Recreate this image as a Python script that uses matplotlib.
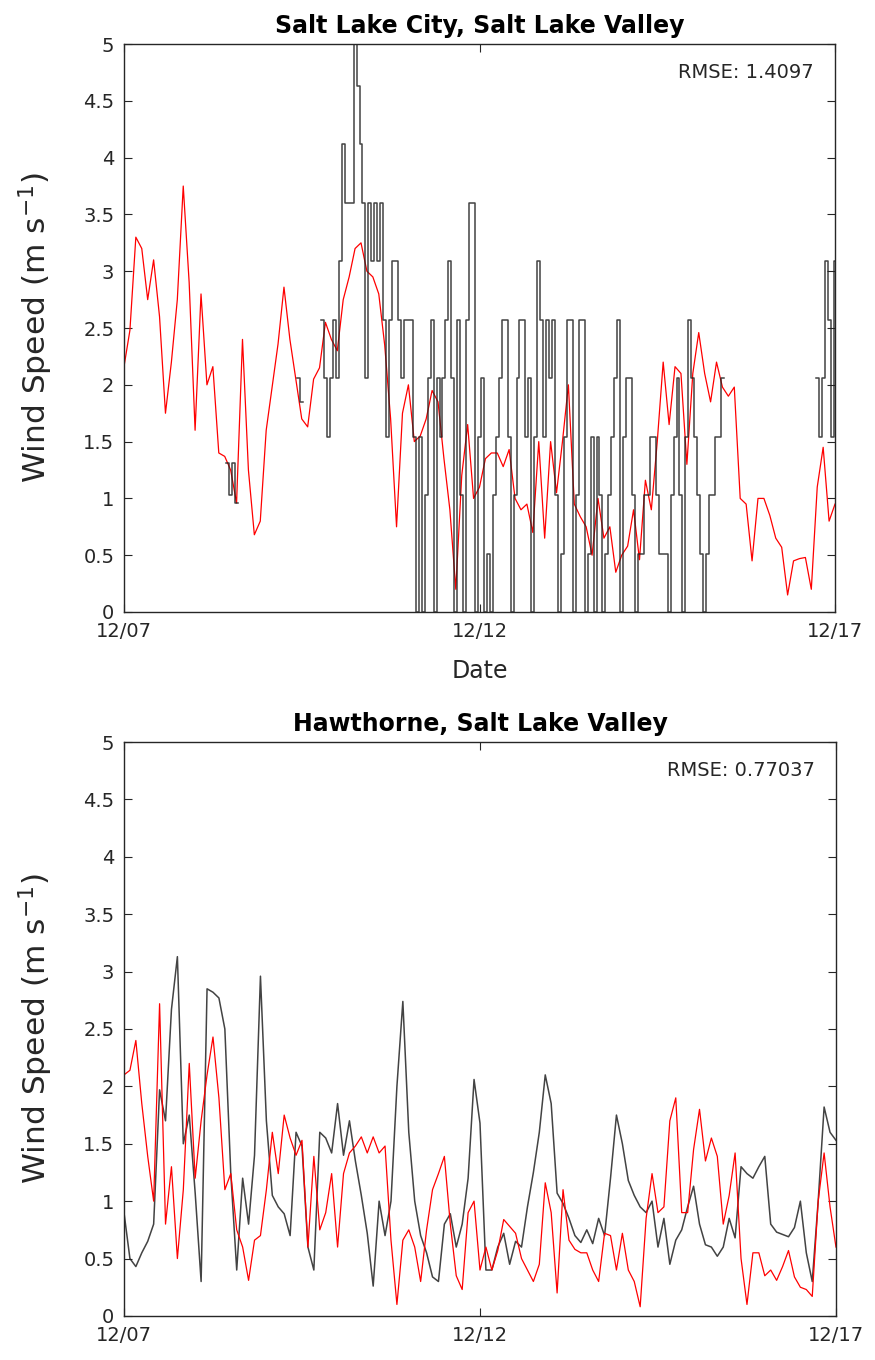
import matplotlib
matplotlib.use("Agg")
import matplotlib.pyplot as plt
import numpy as np

nan = np.nan

# time base in hours after 12/07 00:00
hours_2h = np.arange(0, 241, 2)
hours_1h = np.arange(0, 241, 1)

day_ticks = [0, 5, 10]
day_labels = ["12/07", "12/12", "12/17"]

# Salt Lake City, model (red), every 2 h
slc_model = [2.16, 2.48, 3.3, 3.2, 2.75, 3.1, 2.6, 1.75, 2.2, 2.75,
             3.75, 2.9, 1.6, 2.8, 2.0, 2.16, 1.4, 1.37, 1.25, 0.96,
             2.4, 1.25, 0.68, 0.8, 1.6, 1.98, 2.36, 2.86, 2.4, 2.05,
             1.7, 1.63, 2.05, 2.15, 2.55, 2.4, 2.3, 2.75, 2.95, 3.2,
             3.25, 3.0, 2.95, 2.8, 2.35, 1.7, 0.75, 1.75, 2.0, 1.5,
             1.55, 1.7, 1.95, 1.85, 1.35, 0.9, 0.2, 1.2, 1.65, 1.0,
             1.1, 1.35, 1.4, 1.4, 1.28, 1.43, 1.0, 0.9, 0.95, 0.7,
             1.5, 0.65, 1.5, 1.05, 1.5, 2.0, 0.95, 0.84, 0.75, 0.5,
             1.0, 0.65, 0.75, 0.35, 0.5, 0.58, 0.9, 0.46, 1.16, 0.9,
             1.5, 2.2, 1.65, 2.16, 2.1, 1.3, 2.1, 2.46, 2.1, 1.85,
             2.2, 1.98, 1.9, 1.98, 1.0, 0.95, 0.45, 1.0, 1.0, 0.85,
             0.65, 0.57, 0.15, 0.45, 0.47, 0.48, 0.2, 1.1, 1.45, 0.8,
             0.95]

# Salt Lake City, observed (black), hourly, gaps as nan
slc_obs = ([nan] * 35 + [1.31, 1.03, 1.31, 0.96] + [nan] * 20 + [2.06, 1.85] + [nan] * 6 +
           [2.57, 2.06, 1.54, 2.06, 2.57, 2.06, 3.09, 4.12, 3.6, 3.6,
            3.6, 5.14, 4.63, 4.12, 3.6, 2.06, 3.6, 3.09, 3.6, 3.09,
            3.6, 2.57, 1.54, 2.57, 3.09, 3.09, 2.57, 2.06, 2.57, 2.57,
            2.57, 1.54, 0, 1.54, 0, 1.03, 2.06, 2.57, 0, 2.06,
            1.54, 2.06, 2.57, 3.09, 2.06, 0, 2.57, 1.03, 0, 2.57,
            3.6, 3.6, 0, 1.54, 2.06, 0, 0.51, 0, 1.03, 1.54,
            2.06, 2.57, 2.57, 1.54, 0, 1.03, 2.06, 2.57, 2.57, 1.54,
            2.06, 0, 1.54, 3.09, 2.57, 1.54, 2.57, 2.06, 2.57, 1.03,
            0, 0.51, 1.54, 2.57, 2.57, 0, 1.03, 2.57, 2.57, 0,
            0.51, 1.54, 0, 1.54, 1.03, 0, 0.51, 1.03, 1.54, 2.06,
            2.57, 0, 1.54, 2.06, 2.06, 1.03, 0, 0.51, 0.51, 1.03,
            1.03, 1.54, 1.54, 1.03, 0.51, 0.51, 0.51, 0, 1.03, 1.54,
            2.06, 1.03, 0, 1.54, 2.57, 2.06, 1.54, 1.03, 0.51, 0,
            0.51, 1.03, 1.03, 1.54, 1.54, 2.06] + [nan] * 31 +
           [2.06, 1.54, 2.06, 3.09, 2.57, 1.54, 3.09])

# Hawthorne, model (red), every 2 h
haw_model = [2.1, 2.14, 2.4, 1.85, 1.39, 1.0, 2.72, 0.8, 1.3, 0.5,
             1.1, 2.2, 1.2, 1.7, 2.1, 2.43, 1.9, 1.1, 1.24, 0.75,
             0.6, 0.31, 0.66, 0.7, 1.1, 1.6, 1.24, 1.75, 1.55, 1.4,
             1.53, 0.6, 1.39, 0.75, 0.9, 1.24, 0.6, 1.24, 1.42, 1.48,
             1.56, 1.42, 1.56, 1.42, 1.48, 0.66, 0.1, 0.66, 0.75, 0.6,
             0.3, 0.75, 1.1, 1.24, 1.39, 0.8, 0.35, 0.23, 0.9, 1.0,
             0.4, 0.6, 0.4, 0.57, 0.84, 0.78, 0.72, 0.5, 0.4, 0.3,
             0.45, 1.16, 0.9, 0.2, 1.1, 0.66, 0.58, 0.55, 0.55, 0.4,
             0.3, 0.72, 0.7, 0.4, 0.72, 0.4, 0.3, 0.08, 0.85, 1.24,
             0.9, 0.95, 1.7, 1.9, 0.9, 0.9, 1.45, 1.8, 1.35, 1.55,
             1.39, 0.8, 1.05, 1.42, 0.5, 0.1, 0.55, 0.55, 0.35, 0.4,
             0.31, 0.43, 0.57, 0.34, 0.25, 0.23, 0.17, 1.0, 1.42, 0.95,
             0.6]

# Hawthorne, observed (black), every 2 h
haw_obs = [0.9, 0.5, 0.43, 0.55, 0.65, 0.8, 1.97, 1.7, 2.67, 3.13,
           1.5, 1.75, 1.07, 0.3, 2.85, 2.82, 2.77, 2.5, 1.24, 0.4,
           1.2, 0.8, 1.4, 2.96, 1.7, 1.05, 0.95, 0.89, 0.7, 1.6,
           1.48, 0.6, 0.4, 1.6, 1.55, 1.42, 1.85, 1.4, 1.7, 1.35,
           1.05, 0.72, 0.26, 1.0, 0.7, 1.0, 2.0, 2.74, 1.6, 1.0,
           0.7, 0.55, 0.34, 0.3, 0.8, 0.89, 0.6, 0.8, 1.2, 2.06,
           1.68, 0.4, 0.4, 0.6, 0.72, 0.45, 0.65, 0.6, 0.95, 1.25,
           1.6, 2.1, 1.85, 1.07, 0.98, 0.85, 0.7, 0.64, 0.75, 0.63,
           0.85, 0.7, 1.2, 1.75, 1.5, 1.18, 1.05, 0.95, 0.9, 1.0,
           0.6, 0.85, 0.45, 0.66, 0.75, 0.95, 1.13, 0.8, 0.62, 0.6,
           0.52, 0.6, 0.85, 0.68, 1.3, 1.24, 1.2, 1.3, 1.39, 0.8,
           0.73, 0.71, 0.69, 0.77, 1.0, 0.55, 0.3, 1.0, 1.82, 1.6,
           1.53]

plt.rcParams['font.family'] = ['DejaVu Sans']

fig = plt.figure(figsize=(8.75, 13.6), dpi=100)
ax1 = fig.add_axes([0.1417, 0.55, 0.8126, 0.4176])
ax2 = fig.add_axes([0.1417, 0.0324, 0.8137, 0.422])


def style(ax, title, rmse):
    ax.set_xlim(0, 10)
    ax.set_ylim(0, 5)
    ax.set_yticks(np.arange(0, 5.01, 0.5))
    ax.set_yticklabels(["0", "0.5", "1", "1.5", "2", "2.5", "3", "3.5", "4", "4.5", "5"])
    ax.set_xticks(day_ticks)
    ax.set_xticklabels(day_labels)
    ax.tick_params(direction='in', top=True, right=True, length=6, width=0.8,
                   labelsize=14, colors='#262626', pad=7)
    for s in ax.spines.values():
        s.set_color('#262626')
        s.set_linewidth(1.0)
    ax.set_title(title, fontsize=17, fontweight='bold', pad=8)
    ax.set_ylabel("Wind Speed (m s$^{-1}$)", fontsize=22.5, color='#262626', labelpad=20)
    ax.text(0.97, 0.95, "RMSE: " + rmse, transform=ax.transAxes, ha='right', va='center',
            fontsize=14, color='#262626')


ax1.plot(hours_2h / 24, slc_model, color='#ff0000', lw=0.9)
ax1.plot(hours_1h / 24, slc_obs, color='#222222', lw=1.1, alpha=0.85, drawstyle='steps-mid')
style(ax1, "Salt Lake City, Salt Lake Valley", "1.4097")
ax1.set_xlabel("Date", fontsize=17, color='#262626', labelpad=13)

ax2.plot(hours_2h / 24, haw_obs, color='#222222', lw=1.1, alpha=0.85)
ax2.plot(hours_2h / 24, haw_model, color='#ff0000', lw=0.9)
style(ax2, "Hawthorne, Salt Lake Valley", "0.77037")

fig.savefig("out.png", dpi=100)
